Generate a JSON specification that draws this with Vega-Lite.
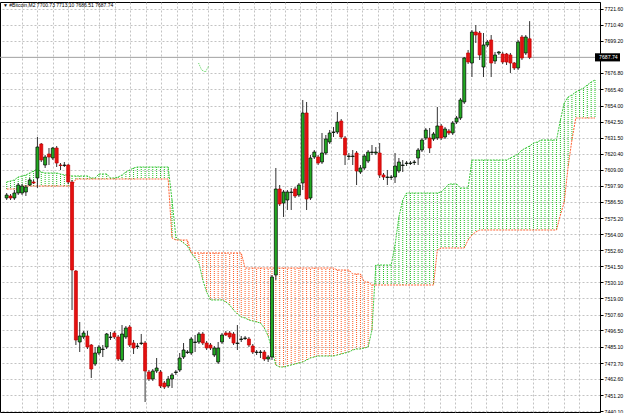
{
"$schema": "https://vega.github.io/schema/vega-lite/v6.json",
"width": 600, "height": 410,
"autosize": {"type": "none"},
"padding": {"left": 0, "top": 2, "right": 25, "bottom": 1},
"background": "white",
"config": {"view": {"stroke": "#000", "strokeWidth": 1}},
"title": {"text": "▼ #Bitcoin,M2  7700.73 7713.10 7686.51 7687.74", "anchor": "start", "frame": "group", "fontSize": 5.0, "fontWeight": "normal", "font": "Liberation Sans", "color": "#000", "offset": -6, "dx": 3},
"datasets": {
"candles": [
{"i":0,"o":7589.25,"h":7592.75,"l":7587.85,"c":7591.35},
{"i":1,"o":7590.65,"h":7592.05,"l":7587.85,"c":7589.25},
{"i":2,"o":7589.25,"h":7594.85,"l":7587.85,"c":7592.75},
{"i":3,"o":7592.75,"h":7599.75,"l":7591.35,"c":7598.35},
{"i":4,"o":7592.75,"h":7599.05,"l":7591.35,"c":7597.65},
{"i":5,"o":7593.45,"h":7598.35,"l":7590.65,"c":7596.95},
{"i":6,"o":7598.35,"h":7603.26,"l":7597.65,"c":7601.86},
{"i":7,"o":7600.45,"h":7601.86,"l":7599.05,"c":7599.75},
{"i":8,"o":7603.26,"h":7631.97,"l":7596.25,"c":7624.96},
{"i":9,"o":7627.06,"h":7627.76,"l":7614.46,"c":7615.86},
{"i":10,"o":7612.36,"h":7619.36,"l":7610.26,"c":7617.96},
{"i":11,"o":7620.06,"h":7624.26,"l":7612.36,"c":7617.96},
{"i":12,"o":7617.26,"h":7624.96,"l":7615.86,"c":7624.26},
{"i":13,"o":7624.26,"h":7625.66,"l":7610.96,"c":7613.76},
{"i":14,"o":7612.36,"h":7613.76,"l":7608.86,"c":7612.01},
{"i":15,"o":7612.01,"h":7614.46,"l":7610.96,"c":7612.36},
{"i":16,"o":7612.36,"h":7613.06,"l":7599.05,"c":7600.45},
{"i":17,"o":7600.45,"h":7601.86,"l":7510.82,"c":7538.83},
{"i":18,"o":7538.13,"h":7538.83,"l":7486.31,"c":7489.82},
{"i":19,"o":7488.41,"h":7502.42,"l":7481.41,"c":7492.62},
{"i":20,"o":7491.92,"h":7496.12,"l":7490.52,"c":7494.72},
{"i":21,"o":7492.62,"h":7496.12,"l":7483.51,"c":7484.91},
{"i":22,"o":7486.31,"h":7487.01,"l":7463.21,"c":7469.51},
{"i":23,"o":7473.01,"h":7484.91,"l":7471.61,"c":7480.71},
{"i":24,"o":7480.71,"h":7486.31,"l":7479.31,"c":7484.91},
{"i":25,"o":7483.16,"h":7486.31,"l":7477.91,"c":7483.51},
{"i":26,"o":7484.91,"h":7494.72,"l":7483.51,"c":7494.02},
{"i":27,"o":7491.57,"h":7495.42,"l":7489.82,"c":7491.92},
{"i":28,"o":7494.72,"h":7496.12,"l":7490.52,"c":7491.92},
{"i":29,"o":7491.92,"h":7493.32,"l":7475.11,"c":7476.51},
{"i":30,"o":7475.81,"h":7500.32,"l":7474.41,"c":7494.02},
{"i":31,"o":7491.92,"h":7499.62,"l":7490.52,"c":7498.22},
{"i":32,"o":7498.92,"h":7500.32,"l":7484.91,"c":7486.31},
{"i":33,"o":7487.71,"h":7489.82,"l":7480.01,"c":7484.21},
{"i":34,"o":7485.26,"h":7487.71,"l":7483.51,"c":7485.61},
{"i":35,"o":7487.36,"h":7494.02,"l":7486.31,"c":7487.71},
{"i":36,"o":7487.71,"h":7489.12,"l":7446.40,"c":7468.11},
{"i":37,"o":7467.41,"h":7468.81,"l":7461.11,"c":7462.51},
{"i":38,"o":7462.51,"h":7469.51,"l":7461.11,"c":7468.11},
{"i":39,"o":7468.11,"h":7477.21,"l":7466.71,"c":7470.21},
{"i":40,"o":7467.41,"h":7468.81,"l":7456.20,"c":7457.60},
{"i":41,"o":7459.70,"h":7461.11,"l":7455.50,"c":7456.90},
{"i":42,"o":7457.60,"h":7464.61,"l":7456.20,"c":7462.51},
{"i":43,"o":7462.51,"h":7466.71,"l":7456.20,"c":7465.31},
{"i":44,"o":7467.06,"h":7468.81,"l":7465.31,"c":7467.41},
{"i":45,"o":7468.81,"h":7480.71,"l":7467.41,"c":7477.21},
{"i":46,"o":7477.91,"h":7487.71,"l":7476.51,"c":7482.81},
{"i":47,"o":7481.06,"h":7482.81,"l":7480.01,"c":7481.41},
{"i":48,"o":7480.71,"h":7491.92,"l":7479.31,"c":7490.52},
{"i":49,"o":7488.06,"h":7493.32,"l":7481.41,"c":7488.41},
{"i":50,"o":7488.41,"h":7495.42,"l":7487.01,"c":7494.02},
{"i":51,"o":7494.02,"h":7495.42,"l":7486.31,"c":7487.71},
{"i":52,"o":7487.71,"h":7489.12,"l":7482.81,"c":7484.21},
{"i":53,"o":7486.31,"h":7487.71,"l":7482.81,"c":7484.21},
{"i":54,"o":7479.31,"h":7485.61,"l":7477.91,"c":7484.21},
{"i":55,"o":7474.41,"h":7488.41,"l":7473.01,"c":7484.21},
{"i":56,"o":7488.41,"h":7494.72,"l":7487.01,"c":7493.32},
{"i":57,"o":7494.72,"h":7496.12,"l":7492.62,"c":7493.32},
{"i":58,"o":7494.72,"h":7496.12,"l":7490.52,"c":7491.92},
{"i":59,"o":7494.02,"h":7495.42,"l":7486.31,"c":7487.71},
{"i":60,"o":7487.36,"h":7500.32,"l":7482.81,"c":7487.71},
{"i":61,"o":7490.17,"h":7492.62,"l":7488.41,"c":7490.52},
{"i":62,"o":7490.87,"h":7492.62,"l":7489.82,"c":7491.22},
{"i":63,"o":7490.52,"h":7491.92,"l":7484.91,"c":7486.31},
{"i":64,"o":7485.61,"h":7487.01,"l":7480.01,"c":7481.41},
{"i":65,"o":7481.06,"h":7482.81,"l":7479.31,"c":7481.41},
{"i":66,"o":7481.06,"h":7482.81,"l":7477.21,"c":7481.41},
{"i":67,"o":7481.41,"h":7482.81,"l":7475.11,"c":7476.51},
{"i":68,"o":7476.51,"h":7479.31,"l":7474.41,"c":7477.91},
{"i":69,"o":7477.91,"h":7535.33,"l":7475.81,"c":7533.93},
{"i":70,"o":7535.33,"h":7610.26,"l":7531.83,"c":7595.55},
{"i":71,"o":7595.55,"h":7598.35,"l":7583.65,"c":7585.05},
{"i":72,"o":7585.75,"h":7594.85,"l":7575.95,"c":7593.45},
{"i":73,"o":7587.85,"h":7594.85,"l":7580.85,"c":7593.45},
{"i":74,"o":7593.10,"h":7596.25,"l":7580.85,"c":7593.45},
{"i":75,"o":7595.55,"h":7596.95,"l":7589.25,"c":7590.65},
{"i":76,"o":7591.35,"h":7599.75,"l":7589.95,"c":7598.35},
{"i":77,"o":7599.75,"h":7657.88,"l":7594.85,"c":7648.77},
{"i":78,"o":7648.77,"h":7656.47,"l":7580.85,"c":7588.55},
{"i":79,"o":7589.25,"h":7619.36,"l":7587.85,"c":7617.26},
{"i":80,"o":7617.96,"h":7622.86,"l":7616.56,"c":7621.46},
{"i":81,"o":7617.96,"h":7619.36,"l":7612.36,"c":7613.76},
{"i":82,"o":7614.46,"h":7634.77,"l":7613.06,"c":7620.76},
{"i":83,"o":7620.76,"h":7633.37,"l":7619.36,"c":7630.57},
{"i":84,"o":7628.46,"h":7636.87,"l":7627.06,"c":7634.77},
{"i":85,"o":7635.12,"h":7638.97,"l":7631.97,"c":7635.47},
{"i":86,"o":7635.47,"h":7649.47,"l":7634.07,"c":7642.47},
{"i":87,"o":7643.17,"h":7644.57,"l":7630.57,"c":7631.97},
{"i":88,"o":7631.27,"h":7632.67,"l":7612.36,"c":7619.36},
{"i":89,"o":7618.31,"h":7620.76,"l":7615.86,"c":7618.66},
{"i":90,"o":7618.31,"h":7622.86,"l":7612.36,"c":7618.66},
{"i":91,"o":7620.76,"h":7622.16,"l":7598.35,"c":7608.16},
{"i":92,"o":7607.46,"h":7612.36,"l":7606.06,"c":7610.26},
{"i":93,"o":7610.26,"h":7620.06,"l":7608.86,"c":7618.66},
{"i":94,"o":7615.16,"h":7622.86,"l":7613.76,"c":7621.46},
{"i":95,"o":7621.11,"h":7626.36,"l":7619.36,"c":7621.46},
{"i":96,"o":7620.76,"h":7624.96,"l":7619.36,"c":7621.46},
{"i":97,"o":7620.76,"h":7627.76,"l":7603.26,"c":7605.36},
{"i":98,"o":7605.36,"h":7606.76,"l":7601.86,"c":7603.96},
{"i":99,"o":7603.61,"h":7608.86,"l":7598.35,"c":7603.96},
{"i":100,"o":7603.61,"h":7605.36,"l":7601.86,"c":7603.96},
{"i":101,"o":7603.96,"h":7620.76,"l":7599.75,"c":7611.66},
{"i":102,"o":7608.16,"h":7617.26,"l":7606.76,"c":7614.46},
{"i":103,"o":7612.01,"h":7615.86,"l":7607.46,"c":7612.36},
{"i":104,"o":7613.41,"h":7615.16,"l":7611.66,"c":7613.76},
{"i":105,"o":7613.41,"h":7615.16,"l":7612.36,"c":7613.76},
{"i":106,"o":7614.11,"h":7615.86,"l":7612.36,"c":7614.46},
{"i":107,"o":7617.26,"h":7624.26,"l":7612.36,"c":7622.86},
{"i":108,"o":7622.86,"h":7631.27,"l":7621.46,"c":7629.87},
{"i":109,"o":7631.27,"h":7638.27,"l":7629.87,"c":7636.87},
{"i":110,"o":7631.27,"h":7638.27,"l":7620.76,"c":7624.26},
{"i":111,"o":7630.57,"h":7635.47,"l":7629.17,"c":7634.07},
{"i":112,"o":7631.27,"h":7652.97,"l":7629.87,"c":7639.67},
{"i":113,"o":7639.67,"h":7641.07,"l":7629.87,"c":7631.27},
{"i":114,"o":7631.97,"h":7638.97,"l":7630.57,"c":7637.57},
{"i":115,"o":7636.17,"h":7637.57,"l":7633.37,"c":7634.77},
{"i":116,"o":7634.77,"h":7643.17,"l":7633.37,"c":7641.77},
{"i":117,"o":7642.47,"h":7646.67,"l":7641.07,"c":7645.27},
{"i":118,"o":7645.27,"h":7659.28,"l":7643.87,"c":7657.88},
{"i":119,"o":7656.47,"h":7687.99,"l":7655.07,"c":7687.29},
{"i":120,"o":7690.79,"h":7692.89,"l":7683.08,"c":7684.48},
{"i":121,"o":7683.78,"h":7706.89,"l":7673.98,"c":7705.49},
{"i":122,"o":7705.49,"h":7710.39,"l":7697.79,"c":7703.39},
{"i":123,"o":7704.79,"h":7706.19,"l":7685.89,"c":7689.39},
{"i":124,"o":7680.98,"h":7704.79,"l":7673.98,"c":7696.39},
{"i":125,"o":7696.39,"h":7699.89,"l":7694.99,"c":7698.49},
{"i":126,"o":7699.89,"h":7703.39,"l":7673.98,"c":7683.78},
{"i":127,"o":7685.19,"h":7691.49,"l":7683.08,"c":7689.39},
{"i":128,"o":7690.79,"h":7692.19,"l":7689.39,"c":7691.49},
{"i":129,"o":7690.09,"h":7691.49,"l":7683.08,"c":7684.48},
{"i":130,"o":7690.09,"h":7690.79,"l":7682.38,"c":7684.48},
{"i":131,"o":7689.39,"h":7690.79,"l":7676.78,"c":7683.78},
{"i":132,"o":7683.78,"h":7684.48,"l":7678.88,"c":7680.28},
{"i":133,"o":7680.28,"h":7699.89,"l":7678.88,"c":7698.49},
{"i":134,"o":7701.99,"h":7703.39,"l":7685.89,"c":7687.29},
{"i":135,"o":7690.79,"h":7703.39,"l":7689.39,"c":7701.99},
{"i":136,"o":7700.73,"h":7713.10,"l":7686.51,"c":7687.74}
],
"cloud": [
{"i":0,"a":7600.45,"b":7595.55},{"i":1,"a":7601.16,"b":7595.55},{"i":2,"a":7601.86,"b":7595.55},{"i":3,"a":7603.96,"b":7595.55},
{"i":4,"a":7604.66,"b":7597.65},{"i":5,"a":7605.36,"b":7597.65},{"i":6,"a":7606.76,"b":7597.65},{"i":7,"a":7608.16,"b":7597.65},
{"i":8,"a":7609.56,"b":7597.65},{"i":9,"a":7607.46,"b":7597.65},{"i":10,"a":7606.76,"b":7597.65},{"i":11,"a":7606.76,"b":7597.65},
{"i":12,"a":7606.76,"b":7597.65},{"i":13,"a":7606.76,"b":7597.65},{"i":14,"a":7606.06,"b":7597.65},{"i":15,"a":7605.36,"b":7597.65},
{"i":16,"a":7605.36,"b":7597.65},{"i":17,"a":7604.66,"b":7597.65},{"i":18,"a":7604.66,"b":7602.56},{"i":19,"a":7604.66,"b":7602.56},
{"i":20,"a":7604.66,"b":7602.56},{"i":21,"a":7604.66,"b":7602.56},{"i":22,"a":7603.26,"b":7602.56},{"i":23,"a":7603.26,"b":7602.56},
{"i":24,"a":7606.06,"b":7602.56},{"i":25,"a":7606.06,"b":7602.56},{"i":26,"a":7606.06,"b":7602.56},{"i":27,"a":7603.26,"b":7602.56},
{"i":28,"a":7603.26,"b":7602.56},{"i":29,"a":7603.96,"b":7602.56},{"i":30,"a":7605.36,"b":7602.56},{"i":31,"a":7607.46,"b":7602.56},
{"i":32,"a":7608.86,"b":7602.56},{"i":33,"a":7610.26,"b":7602.56},{"i":34,"a":7610.96,"b":7602.56},{"i":35,"a":7610.96,"b":7602.56},
{"i":36,"a":7610.96,"b":7602.56},{"i":37,"a":7610.96,"b":7602.56},{"i":38,"a":7610.96,"b":7602.56},{"i":39,"a":7610.96,"b":7602.56},
{"i":40,"a":7610.96,"b":7602.56},{"i":41,"a":7610.96,"b":7602.56},{"i":42,"a":7610.96,"b":7602.56},{"i":43,"a":7587.85,"b":7561.24},
{"i":44,"a":7561.94,"b":7559.84},{"i":45,"a":7559.84,"b":7559.84},{"i":46,"a":7557.74,"b":7559.84},{"i":47,"a":7555.64,"b":7559.84},
{"i":48,"a":7550.74,"b":7550.74},{"i":49,"a":7547.24,"b":7550.74},{"i":50,"a":7543.73,"b":7550.74},{"i":51,"a":7531.83,"b":7550.74},
{"i":52,"a":7523.43,"b":7550.74},{"i":53,"a":7517.83,"b":7550.74},{"i":54,"a":7517.83,"b":7550.74},{"i":55,"a":7517.83,"b":7550.74},
{"i":56,"a":7517.83,"b":7550.74},{"i":57,"a":7516.42,"b":7550.74},{"i":58,"a":7514.32,"b":7550.74},{"i":59,"a":7510.82,"b":7550.74},
{"i":60,"a":7508.02,"b":7550.74},{"i":61,"a":7505.92,"b":7550.74},{"i":62,"a":7505.22,"b":7540.23},{"i":63,"a":7503.82,"b":7540.23},
{"i":64,"a":7503.12,"b":7540.23},{"i":65,"a":7502.42,"b":7540.23},{"i":66,"a":7501.72,"b":7540.23},{"i":67,"a":7498.22,"b":7540.23},
{"i":68,"a":7492.62,"b":7540.23},{"i":69,"a":7482.81,"b":7540.23},{"i":70,"a":7472.31,"b":7540.23},{"i":71,"a":7470.91,"b":7540.23},
{"i":72,"a":7470.91,"b":7540.23},{"i":73,"a":7471.61,"b":7540.23},{"i":74,"a":7472.31,"b":7540.23},{"i":75,"a":7473.01,"b":7540.23},
{"i":76,"a":7473.71,"b":7540.23},{"i":77,"a":7474.41,"b":7540.23},{"i":78,"a":7475.81,"b":7540.23},{"i":79,"a":7477.21,"b":7540.23},
{"i":80,"a":7477.91,"b":7540.23},{"i":81,"a":7478.61,"b":7540.23},{"i":82,"a":7478.61,"b":7540.23},{"i":83,"a":7478.61,"b":7540.23},
{"i":84,"a":7478.61,"b":7540.23},{"i":85,"a":7478.61,"b":7540.23},{"i":86,"a":7479.31,"b":7538.83},{"i":87,"a":7480.01,"b":7538.83},
{"i":88,"a":7480.71,"b":7538.83},{"i":89,"a":7481.41,"b":7538.83},{"i":90,"a":7482.81,"b":7536.03},{"i":91,"a":7483.51,"b":7536.03},
{"i":92,"a":7483.51,"b":7536.03},{"i":93,"a":7484.21,"b":7530.43},{"i":94,"a":7484.91,"b":7530.43},{"i":95,"a":7496.82,"b":7528.33},
{"i":96,"a":7542.33,"b":7528.33},{"i":97,"a":7542.33,"b":7528.33},{"i":98,"a":7542.33,"b":7528.33},{"i":99,"a":7542.33,"b":7528.33},
{"i":100,"a":7542.33,"b":7528.33},{"i":101,"a":7556.34,"b":7528.33},{"i":102,"a":7575.95,"b":7528.33},{"i":103,"a":7587.85,"b":7528.33},
{"i":104,"a":7592.75,"b":7528.33},{"i":105,"a":7592.75,"b":7528.33},{"i":106,"a":7592.75,"b":7528.33},{"i":107,"a":7592.75,"b":7528.33},
{"i":108,"a":7592.75,"b":7528.33},{"i":109,"a":7592.75,"b":7528.33},{"i":110,"a":7592.75,"b":7528.33},{"i":111,"a":7592.75,"b":7528.33},
{"i":112,"a":7592.75,"b":7552.84},{"i":113,"a":7593.45,"b":7554.24},{"i":114,"a":7596.25,"b":7554.24},{"i":115,"a":7599.05,"b":7554.24},
{"i":116,"a":7599.05,"b":7554.24},{"i":117,"a":7599.05,"b":7554.24},{"i":118,"a":7596.25,"b":7554.24},{"i":119,"a":7596.25,"b":7554.24},
{"i":120,"a":7596.25,"b":7559.84},{"i":121,"a":7615.86,"b":7563.34},{"i":122,"a":7615.86,"b":7565.44},{"i":123,"a":7615.86,"b":7566.84},
{"i":124,"a":7615.86,"b":7566.84},{"i":125,"a":7615.86,"b":7566.84},{"i":126,"a":7615.86,"b":7566.84},{"i":127,"a":7615.86,"b":7566.84},
{"i":128,"a":7615.86,"b":7566.84},{"i":129,"a":7615.86,"b":7566.84},{"i":130,"a":7615.86,"b":7566.84},{"i":131,"a":7617.26,"b":7566.84},
{"i":132,"a":7618.66,"b":7566.84},{"i":133,"a":7620.06,"b":7566.84},{"i":134,"a":7622.86,"b":7566.84},{"i":135,"a":7624.26,"b":7566.84},
{"i":136,"a":7625.66,"b":7566.84},{"i":137,"a":7627.76,"b":7566.84},{"i":138,"a":7628.46,"b":7566.84},{"i":139,"a":7629.87,"b":7566.84},
{"i":140,"a":7629.87,"b":7566.84},{"i":141,"a":7629.87,"b":7566.84},{"i":142,"a":7629.87,"b":7566.84},{"i":143,"a":7629.87,"b":7566.84},
{"i":144,"a":7643.87,"b":7577.35},{"i":145,"a":7655.77,"b":7586.45},{"i":146,"a":7659.98,"b":7610.96},{"i":147,"a":7661.38,"b":7629.87},
{"i":148,"a":7663.48,"b":7645.27},{"i":149,"a":7664.88,"b":7645.27},{"i":150,"a":7666.28,"b":7645.27},{"i":151,"a":7668.38,"b":7645.27},
{"i":152,"a":7670.48,"b":7645.27},{"i":153,"a":7671.88,"b":7645.27}
],
"mark_obj": [
{"k":0,"i":49.9,"p":7683.78},{"k":1,"i":50.7,"p":7678.88},{"k":2,"i":51.7,"p":7677.48},{"k":3,"i":52.5,"p":7681.68}
]
},
"layer": [
{"data": {"name": "cloud"},
 "mark": {"type": "rule", "strokeDash": [1, 1], "strokeWidth": 1},
 "encoding": {
  "x": {"field": "i", "type": "quantitative", "scale": {"domain": [-0.435, 153.0], "nice": false, "zero": false},
        "axis": {"grid": true, "tickCount": 200, "values": [3.91,7.94,11.97,16.0,20.02,24.05,28.08,32.11,36.13,40.16,44.19,48.22,52.25,56.27,60.3,64.33,68.36,72.38,76.41,80.44,84.47,88.5,92.52,96.55,100.58,104.61,108.63,112.66,116.69,120.72,124.75,128.77,132.8,136.83,140.86,144.88,148.91],
                 "labels": false, "ticks": false, "domain": false, "title": null, "gridColor": "#b4b4b4", "gridDash": [2, 2], "gridWidth": 0.8}},
  "y": {"field": "a", "type": "quantitative", "scale": {"domain": [7439.4, 7726.5], "nice": false, "zero": false},
        "axis": {"orient": "right", "tickCount": 200, "values": [7721.6,7710.4,7699.2,7676.8,7665.4,7654.0,7642.5,7631.5,7620.4,7609.0,7597.9,7586.5,7575.2,7564.0,7552.6,7541.5,7530.1,7519.0,7507.6,7496.5,7485.1,7473.7,7462.6,7451.2,7440.1],
                 "format": ".2f", "grid": true, "gridColor": "#b4b4b4", "gridDash": [2, 2], "gridWidth": 0.8,
                 "domain": true, "domainColor": "#000", "tickSize": 3, "tickColor": "#000", "labelFontSize": 5.2, "labelFont": "Liberation Sans",
                 "labelColor": "#000", "labelPadding": 1, "title": null, "labelOverlap": false, "labelBound": false, "labelFlush": false}},
  "y2": {"field": "b"},
  "color": {"condition": {"test": "datum.a >= datum.b", "value": "#22c322"}, "value": "#ff5a1f"}
 }},
{"data": {"name": "cloud"},
 "mark": {"type": "line", "color": "#3cc83c", "strokeDash": [2, 1], "strokeWidth": 1},
 "encoding": {"x": {"field": "i", "type": "quantitative"}, "y": {"field": "a", "type": "quantitative", "title": null}}},
{"data": {"name": "cloud"},
 "mark": {"type": "line", "color": "#ff6030", "strokeDash": [2, 1], "strokeWidth": 1},
 "encoding": {"x": {"field": "i", "type": "quantitative"}, "y": {"field": "b", "type": "quantitative", "title": null}}},
{"data": {"name": "mark_obj"},
 "mark": {"type": "line", "color": "#5ed65e", "strokeDash": [1, 1], "strokeWidth": 1},
 "encoding": {"x": {"field": "i", "type": "quantitative"}, "y": {"field": "p", "type": "quantitative", "title": null}, "order": {"field": "k"}}},
{"data": {"values": [{"p": 7687.74}]},
 "mark": {"type": "rule", "color": "#a0a0a0", "strokeWidth": 1},
 "encoding": {"y": {"field": "p", "type": "quantitative", "title": null}}},
{"data": {"name": "candles"},
 "mark": {"type": "rule", "color": "#333333", "strokeWidth": 1},
 "encoding": {"x": {"field": "i", "type": "quantitative"}, "y": {"field": "l", "type": "quantitative", "title": null}, "y2": {"field": "h"}}},
{"data": {"name": "candles"},
 "mark": {"type": "bar", "width": 3, "strokeWidth": 0.7},
 "encoding": {
  "x": {"field": "i", "type": "quantitative"},
  "y": {"field": "o", "type": "quantitative", "title": null},
  "y2": {"field": "c"},
  "fill": {"condition": {"test": "datum.c >= datum.o", "value": "#22aa22"}, "value": "#e51010"},
  "stroke": {"condition": {"test": "datum.c >= datum.o", "value": "#000000"}, "value": "#c40000"}
 }},
{"data": {"values": [{"label": "7687.74"}]},
 "mark": {"type": "rect", "color": "#000000"},
 "encoding": {"x": {"datum": 153.0, "type": "quantitative"}, "x2": {"datum": 159.5}, "y": {"datum": 7690.6, "type": "quantitative"}, "y2": {"datum": 7684.9}}},
{"data": {"values": [{"label": "7687.74"}]},
 "mark": {"type": "text", "color": "#ffffff", "fontSize": 5.2, "font": "Liberation Sans", "align": "left", "baseline": "middle", "dx": 4},
 "encoding": {"x": {"datum": 153.0, "type": "quantitative"}, "y": {"datum": 7687.74, "type": "quantitative"}, "text": {"field": "label"}}}
]
}
